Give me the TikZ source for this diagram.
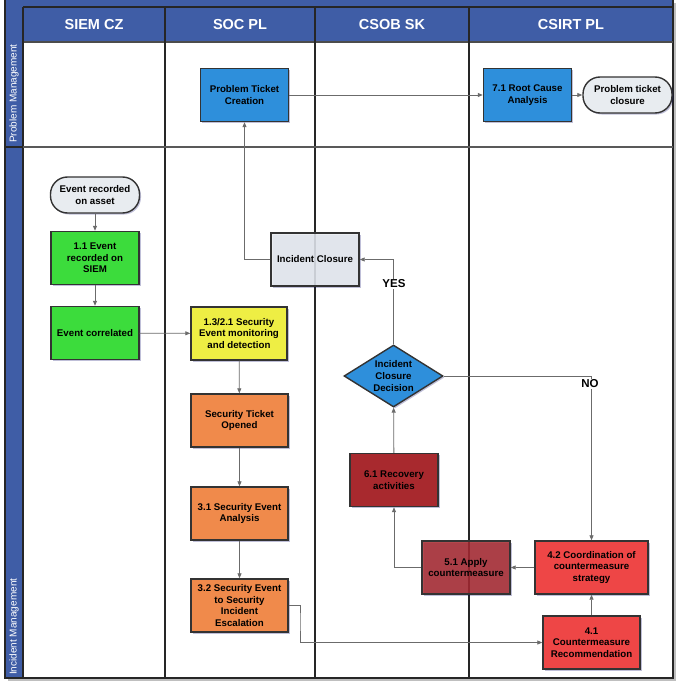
\documentclass[tikz,border=0pt]{standalone}
\usepackage{fontspec}
\setmainfont{Liberation Sans}
\usetikzlibrary{arrows.meta,shapes.geometric,shadows}
\definecolor{hdr}{HTML}{3F5DA6}
\definecolor{boxedge}{HTML}{333333}
\definecolor{conng}{HTML}{6B6B6B}
\definecolor{blueb}{HTML}{2E8FDB}
\definecolor{greenb}{HTML}{3CDC3C}
\definecolor{yellowb}{HTML}{EEEE44}
\definecolor{orangeb}{HTML}{F08A4B}
\definecolor{darkredb}{HTML}{A8292E}
\definecolor{redb}{HTML}{EE4646}
\definecolor{termgrey}{HTML}{E8ECF0}
\begin{document}
\begin{tikzpicture}[x=1pt,y=-1pt,
  box/.style={draw=boxedge, line width=1.4pt, minimum width=88pt, minimum height=53pt,
    inner sep=1pt, align=center, font=\fontsize{9.7}{11.7}\selectfont\bfseries,
    drop shadow={shadow xshift=1.5pt, shadow yshift=-1.5pt, fill=black!60!blue, opacity=0.25}},
  term/.style={box, rounded corners=17pt, minimum height=36pt, minimum width=89pt, fill=termgrey},
  dia/.style={box, shape=diamond, aspect=1.6, inner sep=0pt, minimum width=99pt, minimum height=62pt},
  conn/.style={draw=conng, line width=0.8pt, -{Triangle[length=5pt,width=4pt]}},
  hdrtxt/.style={text=white, font=\fontsize{14.5}{16}\selectfont\bfseries},
  lanetxt/.style={text=white, rotate=90, anchor=west, inner sep=0pt, font=\fontsize{10}{12}\selectfont},
  lbl/.style={fill=white, inner sep=1pt, font=\fontsize{11.5}{13}\selectfont\bfseries},
  frameline/.style={draw=black!85, line width=1.3pt}
]
\path[use as bounding box, fill=white] (0,0) rectangle (681,685);
% frame shadow
\draw[black!25, line width=1.5pt] (8,680) -- (675,680) -- (675,3);
% blue bands
\fill[hdr] (5,0) rectangle (673,42);
\fill[hdr] (5,0) rectangle (23,678);
% lines
\draw[frameline] (5,0) -- (5,678) -- (673,678) -- (673,0);
\draw[frameline] (23,7) -- (673,7);
\draw[draw=black!70, line width=1.3pt] (23,42) -- (673,42);
\draw[frameline] (23,7) -- (23,678);
\draw[frameline] (165,7) -- (165,678);
\draw[frameline] (315,7) -- (315,678);
\draw[frameline] (469,7) -- (469,678);
\draw[draw=black!65, line width=1.3pt] (23,147) -- (673,147);
\draw[frameline] (5,147) -- (23,147);
% headers
\node[hdrtxt] (h1) at (94,25) {SIEM CZ};
\node[hdrtxt] (h2) at (240,25) {SOC PL};
\node[hdrtxt] (h3) at (392,25) {CSOB SK};
\node[hdrtxt] (h4) at (571,25) {CSIRT PL};
\node[lanetxt] (l1) at (14,143) {Problem Management};
\node[lanetxt] (l2) at (14,675) {Incident Management};
% nodes
\node[box, fill=blueb] (ptc) at (244.5,95) {Problem Ticket\\Creation};
\node[box, fill=blueb] (rca) at (527.5,95) {7.1 Root Cause\\Analysis};
\node[term] (ptcl) at (627.5,95) {Problem ticket\\closure};
\node[term] (era) at (95,195) {Event recorded\\on asset};
\node[box, fill=greenb] (e11) at (95,258) {1.1 Event\\recorded on\\SIEM};
\node[box, fill=greenb] (ecor) at (95,333) {Event correlated};
\node[box, fill=yellowb, minimum width=96pt] (mon) at (239,333.5) {1.3/2.1 Security\\Event monitoring\\and detection};
\node[box, fill=termgrey, fill opacity=0.85, text opacity=1] (ic) at (315,259.5) {Incident Closure};
\node[dia, fill=blueb] (dec) at (393.5,376) {Incident\\Closure\\Decision};
\node[box, fill=orangeb, minimum width=97pt] (sto) at (239.5,420.5) {Security Ticket\\Opened};
\node[box, fill=orangeb, minimum width=97pt] (sea) at (239.5,513.5) {3.1 Security Event\\Analysis};
\node[box, fill=orangeb, minimum width=97pt] (esc) at (239.5,605.5) {3.2 Security Event\\to Security\\Incident\\Escalation};
\node[box, fill=darkredb] (rec) at (394,480) {6.1 Recovery\\activities};
\node[box, fill=darkredb, fill opacity=0.85, text opacity=1] (apply) at (466,567.5) {5.1 Apply\\countermeasure};
\node[box, fill=redb, minimum width=113pt] (coord) at (591.5,567.5) {4.2 Coordination of\\countermeasure\\strategy};
\node[box, fill=redb, minimum width=97pt] (cmr) at (591.5,642.5) {4.1\\Countermeasure\\Recommendation};
% connectors
\coordinate (k1) at (300,620);
\draw[conn] (era) -- (e11);
\draw[conn] (e11) -- (ecor);
\draw[conn] (ecor) -- (mon);
\draw[conn] (mon) -- (sto);
\draw[conn] (sto) -- (sea);
\draw[conn] (sea) -- (esc);
\draw[conn] (esc.east) -| (k1) |- (cmr.west);
\draw[conn] (cmr) -- (coord);
\draw[conn] (coord) -- (apply);
\draw[conn] (apply.west) -| (rec.south);
\draw[conn] (rec) -- (dec);
\draw[conn] (dec.north) |- (ic.east);
\draw[conn] (dec.east) -| (coord.north);
\draw[conn] (ic.west) -| (ptc.south);
\draw[conn] (ptc) -- (rca);
\draw[conn] (rca) -- (ptcl);
\node[lbl] (yes) at (394,284) {YES};
\node[lbl] (no) at (590,384) {NO};
\end{tikzpicture}
\end{document}
